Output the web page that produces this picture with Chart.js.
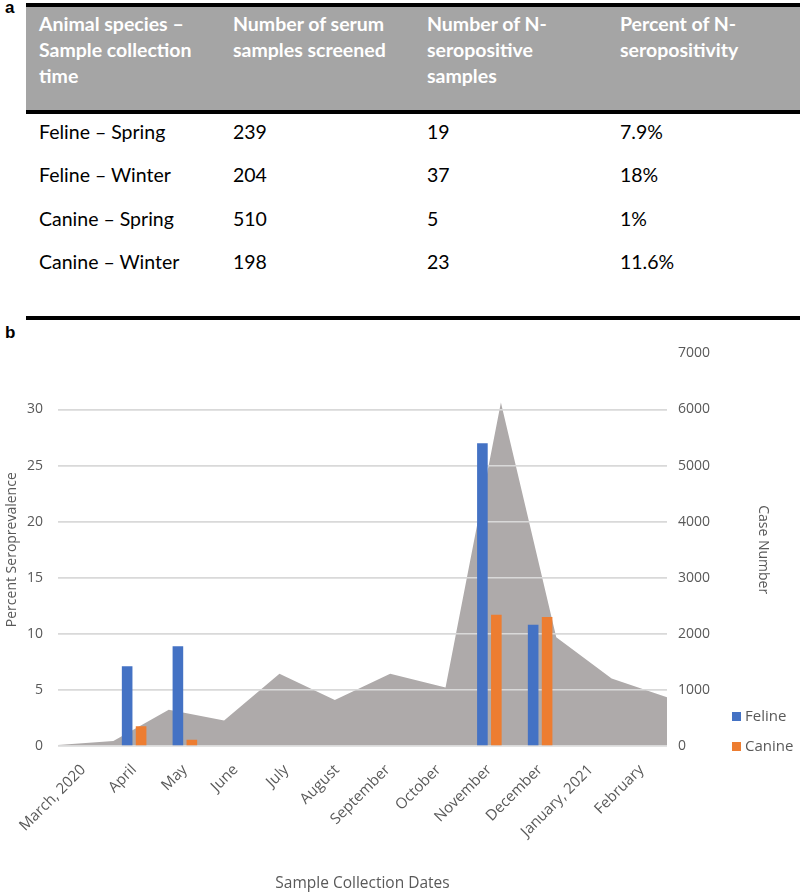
<!DOCTYPE html>
<html>
<head>
<meta charset="utf-8">
<script src="https://cdn.jsdelivr.net/npm/chart.js@4.4.1/dist/chart.umd.min.js"></script>
<style>
  body { margin:0; width:800px; height:894px; position:relative; background:#fff; overflow:hidden; font-family:Lato, sans-serif; }
  .tag { position:absolute; left:5px; font-family:"Liberation Sans", Arial, sans-serif; font-weight:bold; font-size:17px; }
  .rule { position:absolute; left:26px; right:0; height:4px; background:#000; }
  #head { position:absolute; left:26px; right:0; top:7px; height:103px; background:#a5a5a5; }
  .cell { position:absolute; font-size:19.5px; line-height:26px; white-space:nowrap; color:#000; }
  .cell.h { color:#fff; font-weight:bold; font-size:19.5px; }
  #chartBox { position:absolute; left:0; top:330px; width:800px; height:564px; }
  #legend { position:absolute; left:732px; top:706px; font-family:"Open Sans", sans-serif; font-size:15px; color:#595959; }
  #legend div { height:30px; line-height:18px; white-space:nowrap; }
  #legend span { display:inline-block; width:9px; height:9px; margin-right:4px; vertical-align:0px; }
</style>
</head>
<body>
<div class="tag" style="top:-2px">a</div>
<div id="head"></div>
<div class="rule" style="top:3px"></div>
<div class="rule" style="top:110px"></div>
<div class="rule" style="top:316px"></div>
<div class="tag" style="top:323px">b</div>
<div id="table"></div>

<div id="chartBox"><canvas id="seroChart"></canvas></div>
<div id="legend"></div>

<script>
// table (a)
const headers = [
  ['Animal species –', 'Sample collection', 'time'],
  ['Number of serum', 'samples screened'],
  ['Number of N-', 'seropositive', 'samples'],
  ['Percent of N-', 'seropositivity']
];
const groups   = ['Feline – Spring', 'Feline – Winter', 'Canine – Spring', 'Canine – Winter'];
const screened = ['239', '204', '510', '198'];
const positive = ['19', '37', '5', '23'];
const percent  = ['7.9%', '18%', '1%', '11.6%'];

const colX = [39, 233, 427, 620];
const table = document.getElementById('table');
function addCell(x, y, html, cls) {
  const d = document.createElement('div');
  d.className = 'cell ' + (cls || '');
  d.style.left = x + 'px';
  d.style.top = y + 'px';
  d.innerHTML = html;
  table.appendChild(d);
}
headers.forEach((lines, c) => addCell(colX[c], 11, lines.join('<br>'), 'h'));
groups.forEach((g, r) => {
  const y = 119 + r * 43.3;
  [g, screened[r], positive[r], percent[r]].forEach((t, c) => addCell(colX[c], y, t));
});

// chart (b)
const months = ['March, 2020','April','May','June','July','August','September','October',
                'November','December','January, 2021','February'];
const feline = [null, 7.1, 8.9, null, null, null, null, null, 27.0, 10.8, null, null];
const canine = [null, 1.75, 0.55, null, null, null, null, null, 11.7, 11.5, null, null];
const cases  = [20, 90, 645, 455, 1290, 820, 1290, 1045, 6125, 1940, 1205, 870];

const BLUE = '#4472c4', ORANGE = '#ed7d31', GREY = '#aeaaaa';
const TICK = '#595959', GRID = '#d9d9d9';
const FONT = "'Open Sans', sans-serif";

// redraw the y grid right after the area so the lines sit over it but under the bars
const gridOverArea = {
  id: 'gridOverArea',
  afterDatasetDraw(chart, args) {
    if (args.index === 0) chart.scales.y.drawGrid(chart.chartArea);
  }
};

new Chart(document.getElementById('seroChart'), {
  data: {
    labels: months,
    datasets: [
      { type:'line', label:'Cases', data:cases, xAxisID:'x2', yAxisID:'y1',
        fill:'origin', backgroundColor:GREY, borderWidth:0, pointRadius:0, tension:0, order:3 },
      { type:'bar', label:'Feline', data:feline, backgroundColor:BLUE, xAxisID:'x', yAxisID:'y',
        categoryPercentage:1.1, barPercentage:0.76, order:1 },
      { type:'bar', label:'Canine', data:canine, backgroundColor:ORANGE, xAxisID:'x', yAxisID:'y',
        categoryPercentage:1.1, barPercentage:0.76, order:2 }
    ]
  },
  options: {
    responsive:true, maintainAspectRatio:false, animation:false,
    layout:{ padding:{ top:15, left:0, right:25, bottom:0 } },
    plugins:{ legend:{ display:false }, tooltip:{ enabled:false } },
    scales: {
      x: {
        offset:true,
        grid:{ display:false, drawTicks:false },
        border:{ display:false },
        ticks:{ color:TICK, font:{ family:FONT, size:15 }, maxRotation:45, minRotation:45, padding:15 },
        title:{ display:true, text:'Sample Collection Dates', color:TICK, font:{ family:FONT, size:15.5 }, padding:{ top:4, bottom:1 } },
        afterFit(s) { s.height = 148; }
      },
      x2: { type:'category', labels:months, offset:false, display:false },
      y: {
        position:'left', min:0, max:35,
        grid:{ color:(c) => c.tick && c.tick.value === 35 ? 'rgba(0,0,0,0)' : GRID, lineWidth:1.5, drawTicks:false },
        border:{ display:false },
        ticks:{ stepSize:5, color:TICK, font:{ family:FONT, size:14 }, padding:15,
                callback:(v) => v === 35 ? '' : String(v) },
        title:{ display:true, text:'Percent Seroprevalence', color:TICK, font:{ family:FONT, size:14 }, padding:4 },
        afterFit(s) { s.width = 58; }
      },
      y1: {
        position:'right', min:0, max:7000,
        grid:{ display:false, drawTicks:false },
        border:{ display:false },
        ticks:{ stepSize:1000, color:TICK, font:{ family:FONT, size:14 }, padding:11,
                callback:(v) => String(v) },
        title:{ display:true, text:'Case Number', color:TICK, font:{ family:FONT, size:14 }, padding:4 },
        afterFit(s) { s.width = 108; }
      }
    }
  },
  plugins:[gridOverArea]
});

// legend
const legend = document.getElementById('legend');
[['Feline', BLUE], ['Canine', ORANGE]].forEach(([name, col]) => {
  const d = document.createElement('div');
  d.innerHTML = '<span style="background:' + col + '"></span>' + name;
  legend.appendChild(d);
});
</script>
</body>
</html>
